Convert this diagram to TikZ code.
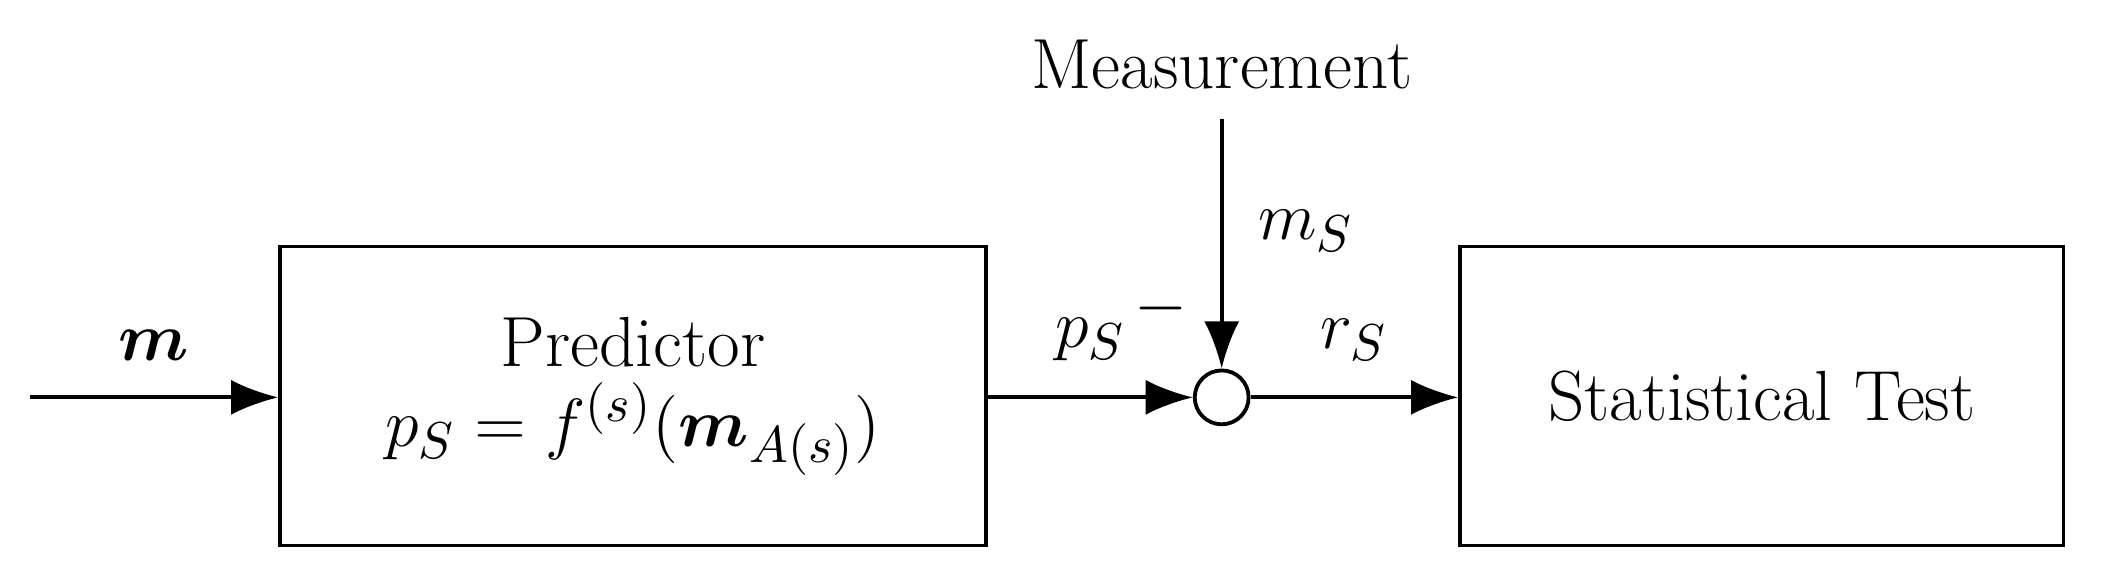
\documentclass[tikz,border=0pt]{standalone}
\usepackage{amsmath,bm}
\usetikzlibrary{arrows.meta}
\tikzset{blk/.style={align=center,rectangle,draw,thick,font=\fontsize{15}{19}\selectfont,inner sep=0pt},
         sig/.style={-{Latex[length=3.5mm,width=2.6mm]},thick}}
\begin{document}
\begin{tikzpicture}
\useasboundingbox (0,0) rectangle (15.68,4.26);

\draw(4.70,1.32) node[blk,minimum width=5.24cm,minimum height=2.22cm](pred){Predictor\\[-2pt]$p_S=f^{(s)}(\bm{m}_{A(s)})$};

\draw(13.08,1.32) node[blk,minimum width=4.48cm,minimum height=2.22cm](test){Statistical Test};

\draw(9.07,1.31) node[circle,draw,thick,minimum size=0.40cm,inner sep=0pt](sum){};

\draw(9.07,3.78) node[font=\fontsize{15}{19}\selectfont](meas){Measurement};

\coordinate (in) at (0.22,1.31);
\coordinate (top) at (9.07,3.38);

\draw [sig] (in) -- node[above=4pt,font=\fontsize{15}{19}\selectfont]{$\bm{m}$} (pred.west |- in);
\draw [sig] (pred.east |- sum) -- node[above=4pt,font=\fontsize{15}{19}\selectfont]{$p_S$} (sum.west);
\draw [sig] (top) -- node[right=4pt,pos=0.45,font=\fontsize{15}{19}\selectfont]{$m_S$} (sum.north);
\draw [sig] (sum.east) -- node[above=4pt,font=\fontsize{15}{19}\selectfont]{$r_S$} (test.west |- sum);
\node[font=\fontsize{15}{19}\selectfont] at (8.62,1.97) {$-$};

\end{tikzpicture}
\end{document}
